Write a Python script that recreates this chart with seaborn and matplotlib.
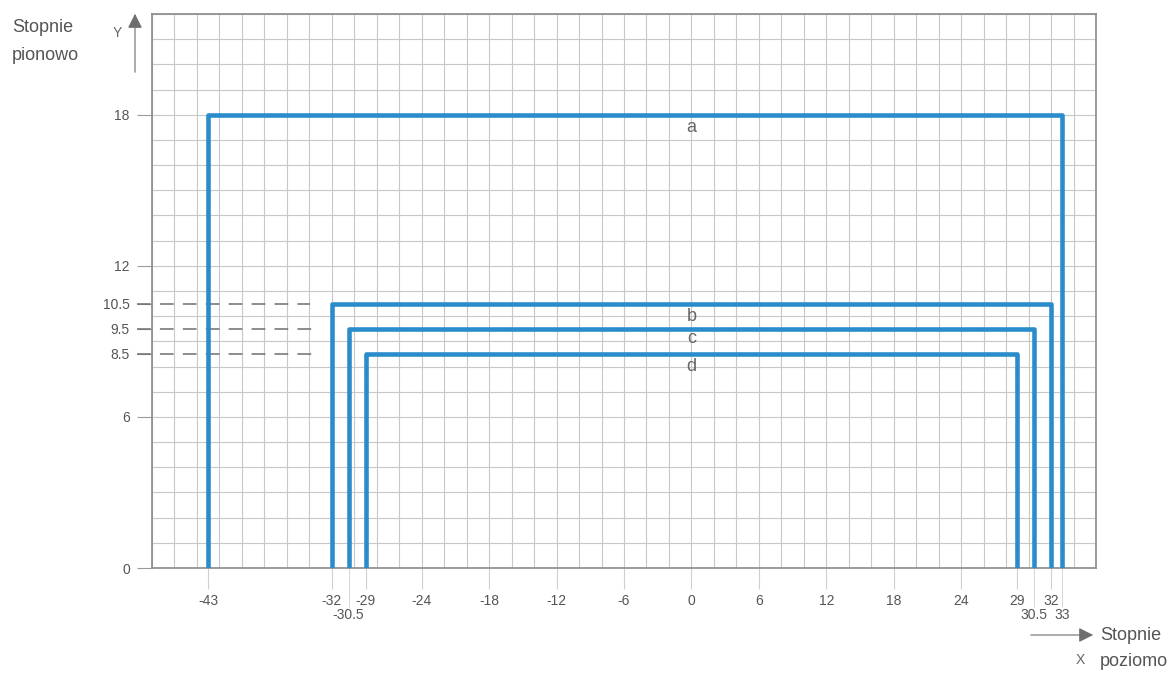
import numpy as np
import pandas as pd
import matplotlib.pyplot as plt
import seaborn as sns

# field-of-view rectangles (degrees)
names = ['a', 'b', 'c', 'd']
left = [-43, -32, -30.5, -29]
right = [33, 32, 30.5, 29]
height = [18, 10.5, 9.5, 8.5]
label_y = [17.5, 10.0, 9.1, 8.0]

x_major = [-43, -32, -29, -24, -18, -12, -6, 0, 6, 12, 18, 24, 29, 32]
x_minor = [-30.5, 30.5, 33]
y_ticks = [0, 6, 8.5, 9.5, 10.5, 12, 18]
dashed_y = [10.5, 9.5, 8.5]
dashed_end = [-33.9, -33.2, -33.2]

rows = []
for n, l, r, h in zip(names, left, right, height):
    for i, (px, py) in enumerate(zip([l, l, r, r], [0, h, h, 0])):
        rows.append({'name': n, 'order': i, 'x': px, 'y': py})
df = pd.DataFrame(rows)

sns.set_style('white')
plt.rcParams['font.family'] = ['Liberation Sans', 'DejaVu Sans']

W, H = 1173, 673
fig = plt.figure(figsize=(W / 100, H / 100), dpi=100)
ax = fig.add_axes([152 / W, 1 - 568 / H, (1096 - 152) / W, (568 - 14) / H])

blue = '#2b8ccc'
grey = '#6e6e6e'
sns.lineplot(data=df, x='x', y='y', hue='name', units='name', estimator=None,
             sort=False, palette=[blue] * 4, linewidth=3.3, legend=False, ax=ax,
             zorder=3)

ax.set_xlim(-48, 36)
ax.set_ylim(0, 22)

# grid
for gx in np.arange(-48, 37, 2):
    ax.axvline(gx, color='#c8c8c8', lw=0.8, zorder=1)
for gy in np.arange(0, 23, 1):
    ax.axhline(gy, color='#c8c8c8', lw=0.8, zorder=1)

for s in ax.spines.values():
    s.set_color('#8a8a8a')
    s.set_linewidth(1.2)

ax.set_xticks(x_major)
ax.set_xticklabels([f'{v:g}' for v in x_major])
ax.set_xticks(x_minor, minor=True)
ax.set_xticklabels([f'{v:g}' for v in x_minor], minor=True)
ax.tick_params(axis='x', which='major', length=15, pad=4, color='#d0d0d0',
               labelsize=10, labelcolor='#555555', direction='out', bottom=True)
ax.tick_params(axis='x', which='minor', length=28, pad=1, color='#d0d0d0',
               labelsize=10, labelcolor='#555555', direction='out', bottom=True)

ax.set_yticks(y_ticks)
ax.set_yticklabels([f'{v:g}' for v in y_ticks])
ax.tick_params(axis='y', length=11, pad=5, color='#9a9a9a', labelsize=10,
               labelcolor='#555555', direction='out', left=True)
ax.set_xlabel('')
ax.set_ylabel('')

# dashed leader lines
for yv, xe in zip(dashed_y, dashed_end):
    ax.plot([-49.3, xe], [yv, yv], color=grey, lw=1.1, dashes=(9, 6),
            clip_on=False, zorder=2)

for n, yl in zip(names, label_y):
    ax.text(0, yl, n, ha='center', va='center', fontsize=13, color='#666666')

# axis arrows and titles
ax.annotate('', xy=(135 / W, 1 - 11 / H), xytext=(135 / W, 1 - 75 / H),
            xycoords='figure fraction', textcoords='figure fraction',
            arrowprops=dict(arrowstyle='-|>', color=grey, lw=0.8, mutation_scale=22))
fig.text(117 / W, 1 - 33 / H, 'Y', fontsize=10, color='#666666', ha='center', va='center')
fig.text(12 / W, 1 - 28 / H, 'Stopnie', fontsize=13, color='#555555', ha='left', va='center')
fig.text(12 / W, 1 - 55 / H, 'pionowo', fontsize=13, color='#555555', ha='left', va='center')

ax.annotate('', xy=(1096 / W, 1 - 635 / H), xytext=(1028 / W, 1 - 635 / H),
            xycoords='figure fraction', textcoords='figure fraction',
            arrowprops=dict(arrowstyle='-|>', color=grey, lw=0.8, mutation_scale=22))
fig.text(1080 / W, 1 - 660 / H, 'X', fontsize=10, color='#666666', ha='center', va='center')
fig.text(1100 / W, 1 - 635 / H, 'Stopnie', fontsize=13, color='#555555', ha='left', va='center')
fig.text(1100 / W, 1 - 662 / H, 'poziomo', fontsize=13, color='#555555', ha='left', va='center')

fig.savefig('out.png', dpi=100)
